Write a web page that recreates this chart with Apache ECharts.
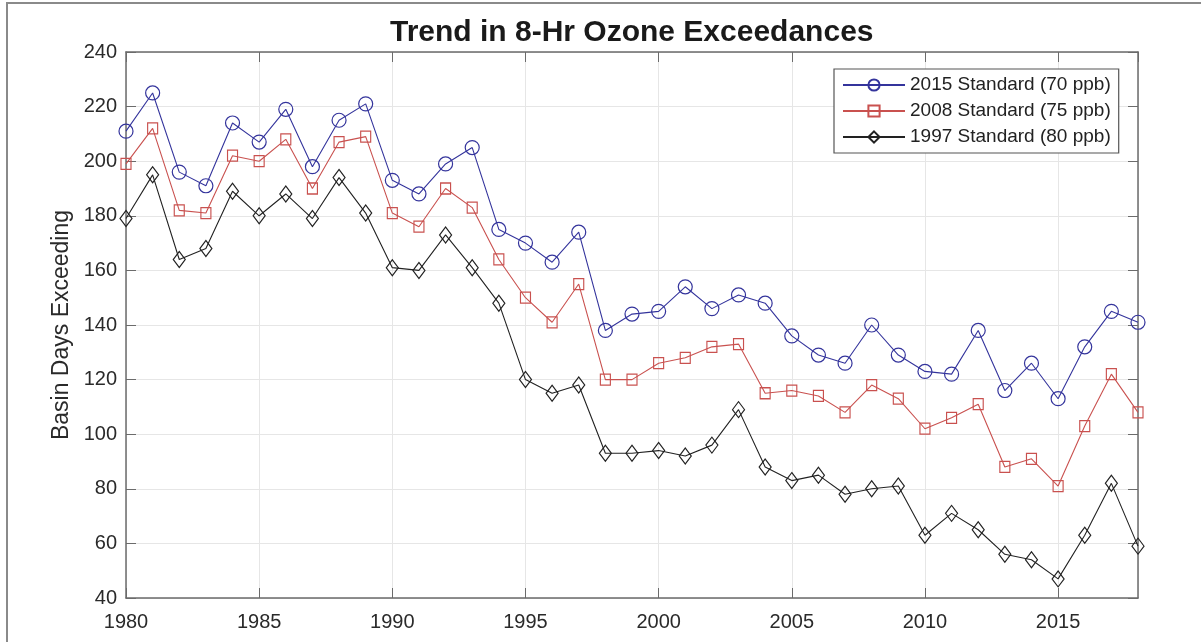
<!DOCTYPE html>
<html>
<head>
<meta charset="utf-8">
<title>Trend in 8-Hr Ozone Exceedances</title>
<script src="https://cdn.jsdelivr.net/npm/echarts@6/dist/echarts.min.js"></script>
<style>
    html, body { margin: 0; padding: 0; background: #fff; }
    #chart { width: 1201px; height: 642px; }
</style>
</head>
<body>
<div id="chart"></div>
<script>
    // 年份
    var years = [
        1980, 1981, 1982, 1983, 1984, 1985, 1986, 1987, 1988, 1989,
        1990, 1991, 1992, 1993, 1994, 1995, 1996, 1997, 1998, 1999,
        2000, 2001, 2002, 2003, 2004, 2005, 2006, 2007, 2008, 2009,
        2010, 2011, 2012, 2013, 2014, 2015, 2016, 2017, 2018
    ];

    // 2015 Standard (70 ppb)
    var std2015 = [
        211, 225, 196, 191, 214, 207, 219, 198, 215, 221,
        193, 188, 199, 205, 175, 170, 163, 174, 138, 144,
        145, 154, 146, 151, 148, 136, 129, 126, 140, 129,
        123, 122, 138, 116, 126, 113, 132, 145, 141
    ];

    // 2008 Standard (75 ppb)
    var std2008 = [
        199, 212, 182, 181, 202, 200, 208, 190, 207, 209,
        181, 176, 190, 183, 164, 150, 141, 155, 120, 120,
        126, 128, 132, 133, 115, 116, 114, 108, 118, 113,
        102, 106, 111, 88, 91, 81, 103, 122, 108
    ];

    // 1997 Standard (80 ppb)
    var std1997 = [
        179, 195, 164, 168, 189, 180, 188, 179, 194, 181,
        161, 160, 173, 161, 148, 120, 115, 118, 93, 93,
        94, 92, 96, 109, 88, 83, 85, 78, 80, 81,
        63, 71, 65, 56, 54, 47, 63, 82, 59
    ];

    var seriesNames = ['2015 Standard (70 ppb)', '2008 Standard (75 ppb)', '1997 Standard (80 ppb)'];

    var font = 'Liberation Sans, Arial, sans-serif';
    var axisColor = '#6b6b6b';
    var gridColor = '#e6e6e6';

    function pairs(values) {
        return years.map(function (y, i) { return [y, values[i]]; });
    }

    function lineSeries(name, values, color, symbol, size) {
        return {
            name: name,
            type: 'line',
            xAxisIndex: 0,
            yAxisIndex: 0,
            data: pairs(values),
            symbol: symbol,
            symbolSize: size,
            showAllSymbol: true,
            color: color,
            lineStyle: { color: color, width: 1.1 },
            itemStyle: { color: 'rgba(255,255,255,0)', borderColor: color, borderWidth: 1.2 },
            emphasis: { disabled: true },
            z: 3
        };
    }

    var myChart = echarts.init(document.getElementById('chart'));

    var option = {
        backgroundColor: '#fff',
        animation: false,
        textStyle: { fontFamily: font },
        title: {
            text: 'Trend in 8-Hr Ozone Exceedances',
            left: 390,
            top: 18,
            padding: 0,
            textStyle: { fontFamily: font, fontSize: 30, fontWeight: 'bold', color: '#1a1a1a' }
        },
        legend: {
            orient: 'vertical',
            left: 834,
            top: 69,
            padding: [6, 8, 6, 8],
            itemWidth: 62,
            itemHeight: 14,
            itemGap: 6,
            borderColor: '#555',
            borderWidth: 1.2,
            backgroundColor: '#fff',
            textStyle: { fontFamily: font, fontSize: 19, lineHeight: 20, color: '#222' },
            data: seriesNames
        },
        grid: {
            left: 126,
            right: 63,
            top: 52,
            bottom: 44,
            containLabel: false
        },
        xAxis: [
            {
                type: 'value',
                min: 1980,
                max: 2018,
                interval: 5,
                axisLine: { show: true, lineStyle: { color: axisColor, width: 1.5 } },
                axisTick: { show: true, inside: true, length: 10, lineStyle: { color: axisColor } },
                axisLabel: {
                    show: true, margin: 14, fontSize: 20, color: '#2a2a2a', fontFamily: font,
                    showMaxLabel: false,
                    formatter: function (v) { return String(v); }
                },
                splitLine: { show: true, lineStyle: { color: gridColor, width: 1 } }
            },
            {
                type: 'value',
                position: 'top',
                min: 1980,
                max: 2018,
                interval: 5,
                axisLine: { show: true, lineStyle: { color: axisColor, width: 1.5 } },
                axisTick: { show: true, inside: true, length: 10, lineStyle: { color: axisColor } },
                axisLabel: { show: false },
                splitLine: { show: false }
            }
        ],
        yAxis: [
            {
                type: 'value',
                min: 40,
                max: 240,
                interval: 20,
                name: 'Basin Days Exceeding',
                nameLocation: 'middle',
                nameGap: 52,
                nameTextStyle: { fontFamily: font, fontSize: 23, color: '#2a2a2a' },
                axisLine: { show: true, lineStyle: { color: axisColor, width: 1.5 } },
                axisTick: { show: true, inside: true, length: 10, lineStyle: { color: axisColor } },
                axisLabel: { show: true, margin: 9, fontSize: 20, color: '#2a2a2a', fontFamily: font },
                splitLine: { show: true, lineStyle: { color: gridColor, width: 1 } }
            },
            {
                type: 'value',
                position: 'right',
                min: 40,
                max: 240,
                interval: 20,
                axisLine: { show: true, lineStyle: { color: axisColor, width: 1.5 } },
                axisTick: { show: true, inside: true, length: 10, lineStyle: { color: axisColor } },
                axisLabel: { show: false },
                splitLine: { show: false }
            }
        ],
        graphic: [
            {
                // 外框
                type: 'polyline',
                shape: { points: [[7, 650], [7, 3], [1205, 3]] },
                style: { stroke: '#8a8a8a', lineWidth: 2, fill: null },
                silent: true
            }
        ],
        series: [
            lineSeries(seriesNames[0], std2015, '#34349c', 'circle', 14),
            lineSeries(seriesNames[1], std2008, '#c9514f', 'rect', [10, 11]),
            lineSeries(seriesNames[2], std1997, '#222222', 'diamond', [12, 16])
        ]
    };

    myChart.setOption(option);
</script>
</body>
</html>
